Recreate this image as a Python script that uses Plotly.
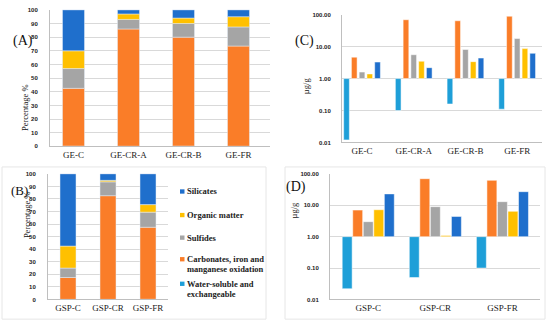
import plotly.graph_objects as go

# ---------------- data ----------------
series = ["Water-soluble and exchangeable",
          "Carbonates, iron and manganese oxidation",
          "Sulfides", "Organic matter", "Silicates"]
legend_lines = [["Water-soluble and", "exchangeable"],
                ["Carbonates, iron and", "manganese oxidation"],
                ["Sulfides"], ["Organic matter"], ["Silicates"]]
colors = ["#1E9FD8", "#FA7D28", "#A5A5A5", "#FFC000", "#1F6FCC"]

cats_ge = ["GE-C", "GE-CR-A", "GE-CR-B", "GE-FR"]
cats_gsp = ["GSP-C", "GSP-CR", "GSP-FR"]

# (A) percentage, GE samples
pct_ge_water = [0.2, 0.1, 0.2, 0.1]
pct_ge_carb = [42.3, 85.9, 79.8, 73.4]
pct_ge_sulf = [14.5, 7.0, 10.0, 14.0]
pct_ge_org = [13.0, 4.0, 4.0, 7.5]
pct_ge_sil = [30.0, 3.0, 6.0, 5.0]

# (B) percentage, GSP samples
pct_gsp_water = [0.1, 0.1, 0.2]
pct_gsp_carb = [17.4, 82.5, 57.3]
pct_gsp_sulf = [7.5, 11.0, 12.0]
pct_gsp_org = [17.5, 1.2, 6.0]
pct_gsp_sil = [57.5, 5.2, 24.5]

# (C) concentration ug/g, GE samples
ug_ge_water = [0.012, 0.10, 0.16, 0.11]
ug_ge_carb = [4.7, 70.0, 65.0, 90.0]
ug_ge_sulf = [1.6, 5.6, 8.2, 18.0]
ug_ge_org = [1.4, 3.5, 3.4, 8.7]
ug_ge_sil = [3.3, 2.2, 4.4, 6.2]

# (D) concentration ug/g, GSP samples
ug_gsp_water = [0.022, 0.05, 0.10]
ug_gsp_carb = [7.0, 70.0, 62.0]
ug_gsp_sulf = [3.0, 9.0, 13.0]
ug_gsp_org = [7.2, 1.08, 6.4]
ug_gsp_sil = [23.0, 4.4, 27.0]

pct_ge = [pct_ge_water, pct_ge_carb, pct_ge_sulf, pct_ge_org, pct_ge_sil]
pct_gsp = [pct_gsp_water, pct_gsp_carb, pct_gsp_sulf, pct_gsp_org, pct_gsp_sil]
ug_ge = [ug_ge_water, ug_ge_carb, ug_ge_sulf, ug_ge_org, ug_ge_sil]
ug_gsp = [ug_gsp_water, ug_gsp_carb, ug_gsp_sulf, ug_gsp_org, ug_gsp_sil]

pct_ticks = list(range(0, 101, 10))
log_tickvals = [0.01, 0.1, 1, 10, 100]
log_ticktext = ["0.01", "0.10", "1.00", "10.00", "100.00"]

# ---------------- figure ----------------
W, H = 550, 329
fig = go.Figure()

def px_x(a, b):
    return [a / W, b / W]

def px_y(top, bottom):
    return [1 - bottom / H, 1 - top / H]

n = len(series)
c_slot, c_w = 0.15, 0.11
d_slot, d_w = 0.157, 0.148
for i, name in enumerate(series):
    fig.add_trace(go.Bar(x=cats_ge, y=pct_ge[i], name=name, marker_color=colors[i],
                         width=0.4, offsetgroup="A",
                         xaxis="x", yaxis="y"))
    fig.add_trace(go.Bar(x=cats_gsp, y=pct_gsp[i], name=name, marker_color=colors[i],
                         width=0.4, offsetgroup="B",
                         xaxis="x2", yaxis="y2"))
    base_c = [min(v, 1) for v in ug_ge[i]]
    len_c = [abs(v - 1) for v in ug_ge[i]]
    fig.add_trace(go.Bar(x=cats_ge, y=len_c, base=base_c, name=name,
                         marker=dict(color=colors[i], line=dict(color="white", width=0.5)),
                         width=c_w, offset=(i - (n - 1) / 2) * c_slot - c_w / 2,
                         offsetgroup="C%d" % i,
                         xaxis="x3", yaxis="y3"))
    base_d = [min(v, 1) for v in ug_gsp[i]]
    len_d = [abs(v - 1) for v in ug_gsp[i]]
    fig.add_trace(go.Bar(x=cats_gsp, y=len_d, base=base_d, name=name,
                         marker=dict(color=colors[i], line=dict(color="white", width=0.5)),
                         width=d_w, offset=(i - (n - 1) / 2) * d_slot - d_w / 2,
                         offsetgroup="D%d" % i,
                         xaxis="x4", yaxis="y4"))

grid = "#D9D9D9"
axline = "#BFBFBF"
tickfont_y = dict(family="Liberation Sans", size=6, color="#222222", weight="bold")
tickfont_x = dict(family="Liberation Serif", size=9, color="#222222")

def cat_axis(domain, rng, anchor):
    return dict(domain=domain, range=rng, anchor=anchor, type="category",
                showgrid=False, showline=True, linecolor=axline, linewidth=1,
                ticks="", tickfont=tickfont_x, fixedrange=True)

def pct_axis(domain, anchor):
    return dict(domain=domain, range=[0, 100], anchor=anchor, tickvals=pct_ticks,
                showgrid=True, gridcolor=grid, gridwidth=1, showline=True,
                linecolor=axline, ticks="", tickfont=tickfont_y, zeroline=False,
                ticklabelstandoff=10)

def log_axis(domain, anchor):
    return dict(domain=domain, type="log", range=[-2, 2], anchor=anchor,
                tickvals=log_tickvals, ticktext=log_ticktext, showgrid=True,
                gridcolor=grid, gridwidth=1, showline=True, linecolor=axline,
                ticks="", tickfont=tickfont_y, zeroline=False,
                ticklabelstandoff=9)

fig.update_layout(
    width=W, height=H, margin=dict(l=0, r=0, t=0, b=0),
    paper_bgcolor="white", plot_bgcolor="white",
    barmode="relative", showlegend=False,
    xaxis=cat_axis(px_x(50, 270), [-0.427, 3.573], "y"),
    yaxis=pct_axis(px_y(7, 146), "x"),
    xaxis2=cat_axis(px_x(48, 168), [-0.5, 2.5], "y2"),
    yaxis2=pct_axis(px_y(174, 302), "x2"),
    xaxis3=cat_axis(px_x(342, 542), [-0.387, 3.48], "y3"),
    yaxis3=log_axis(px_y(12, 142), "x3"),
    xaxis4=cat_axis(px_x(330, 540), [-0.57, 2.56], "y4"),
    yaxis4=log_axis(px_y(174, 302), "x4"),
)

ann = []
shapes = []
# panel labels and axis titles
for txt, x, y, s in [("(A)", 12, 30, 14), ("(B)", 10, 191, 13),
                     ("(C)", 304, 30, 14), ("(D)", 296, 187, 14)]:
    ann.append(dict(text=txt, x=x / W, y=1 - y / H, xref="paper", yref="paper",
                    showarrow=False, borderpad=0,
                    font=dict(family="Liberation Serif", size=s, color="#111111")))
for txt, x, y in [("Percentage %", 19, 82), ("Percentage %", 21, 241),
                  ("µg/g", 306, 75), ("µg/g", 294, 221)]:
    ann.append(dict(text=txt, x=x / W, y=1 - y / H, xref="paper", yref="paper",
                    showarrow=False, textangle=-90, borderpad=0,
                    font=dict(family="Liberation Serif", size=8.5, color="#111111")))

# legend (panel B), top item = Silicates
legend_y = [286, 261, 239, 216, 192]
for i in range(n):
    y0 = legend_y[i]
    shapes.append(dict(type="rect", xref="paper", yref="paper",
                       x0=180 / W, x1=184.5 / W, y0=1 - (y0 + 2.2) / H, y1=1 - (y0 - 2.2) / H,
                       fillcolor=colors[i], line=dict(width=0)))
    for k, line in enumerate(legend_lines[i]):
        ann.append(dict(text=line, x=186 / W, y=1 - (y0 + 10 * k) / H,
                        xref="paper", yref="paper", xanchor="left", yanchor="middle",
                        showarrow=False, borderpad=0,
                        font=dict(family="Liberation Serif", size=8.5, color="#222222",
                                  weight="bold")))

# light panel borders (bottom panels)
for x0, y0, x1, y1 in [(2, 167, 266, 322), (285, 167, 545, 322)]:
    shapes.append(dict(type="rect", xref="paper", yref="paper",
                       x0=x0 / W, x1=x1 / W, y0=1 - y1 / H, y1=1 - y0 / H,
                       line=dict(color="#E6E6E6", width=1)))
fig.update_layout(annotations=ann, shapes=shapes)

fig.write_html("out.html", config={"displayModeBar": False},
               post_script="document.body.style.margin='0';")
